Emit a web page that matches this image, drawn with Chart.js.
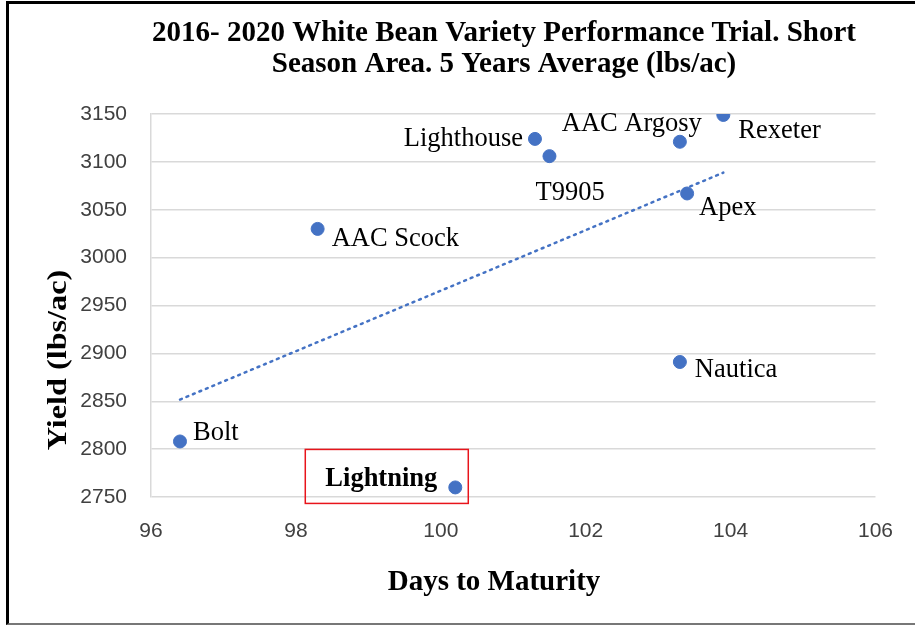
<!DOCTYPE html>
<html><head><meta charset="utf-8">
<script src="https://cdn.jsdelivr.net/npm/chart.js@4.4.1/dist/chart.umd.min.js"></script>
<style>
html,body{margin:0;padding:0;background:#fff;}
#wrap{position:relative;width:915px;height:629px;}
#frame{position:absolute;left:6px;top:1px;width:915px;height:624px;border-left:3px solid #000;border-top:3px solid #000;border-bottom:2px solid #777;box-sizing:border-box;pointer-events:none;}
canvas{position:absolute;left:0;top:0;}
</style></head>
<body><div id="wrap"><canvas id="c" width="915" height="629"></canvas><div id="frame"></div></div>
<script>
const varieties = ["Bolt","Lightning","AAC Scock","Lighthouse","T9905","AAC Argosy","Rexeter","Apex","Nautica"];
const daysToMaturity = [96.4,100.2,98.3,101.3,101.5,103.3,103.9,103.4,103.3];
const yieldLbsAc = [2808,2760,3030,3124,3106,3121,3149,3067,2891];
const xTicks = [96,98,100,102,104,106];
const yTicks = [2750,2800,2850,2900,2950,3000,3050,3100,3150];
const titleLines = ["2016- 2020 White Bean Variety Performance Trial. Short","Season Area. 5 Years Average (lbs/ac)"];
const xTitle = "Days to Maturity";
const yTitle = "Yield (lbs/ac)";
const highlighted = "Lightning";

// label placement relative to point (pixels): dx, dy, align
const labelPos = {
  "Bolt":[13,-8,"left"],
  "Lightning":[-18,-8,"right"],
  "AAC Scock":[14,10,"left"],
  "Lighthouse":[-12,0,"right"],
  "T9905":[-14,37,"left"],
  "AAC Argosy":[22,-18,"right"],
  "Rexeter":[15,16,"left"],
  "Apex":[12,15,"left"],
  "Nautica":[15,8,"left"]
};

// least-squares trendline from the data
const n = daysToMaturity.length;
const mx = daysToMaturity.reduce((a,b)=>a+b,0)/n;
const my = yieldLbsAc.reduce((a,b)=>a+b,0)/n;
let sxy=0,sxx=0;
for(let i=0;i<n;i++){sxy+=(daysToMaturity[i]-mx)*(yieldLbsAc[i]-my);sxx+=(daysToMaturity[i]-mx)**2;}
const slope=sxy/sxx, icpt=my-slope*mx;
const xmin=Math.min(...daysToMaturity), xmax=Math.max(...daysToMaturity);
const trend=[{x:xmin,y:icpt+slope*xmin},{x:xmax,y:icpt+slope*xmax}];

const pts = daysToMaturity.map((x,i)=>({x:x,y:yieldLbsAc[i]}));

const annot = {
  id:'annot',
  afterDatasetsDraw(chart){
    const ctx=chart.ctx, xs=chart.scales.x, ys=chart.scales.y;
    ctx.save();
    ctx.fillStyle='#000';
    ctx.textBaseline='middle';
    varieties.forEach((v,i)=>{
      const px=xs.getPixelForValue(daysToMaturity[i]), py=ys.getPixelForValue(yieldLbsAc[i]);
      const p=labelPos[v];
      ctx.font=(v===highlighted?'bold ':'')+'26.5px "Liberation Serif"';
      ctx.textAlign=p[2];
      ctx.fillText(v,px+p[0],py+p[1]);
      if(v===highlighted){
        ctx.strokeStyle='#e8141b';ctx.lineWidth=1.5;
        ctx.strokeRect(px-150,py-38,163,54);
      }
    });
    ctx.restore();
  },
  afterDraw(chart){
    const ctx=chart.ctx;
    ctx.save();
    ctx.fillStyle='#000';
    ctx.textAlign='center';ctx.textBaseline='alphabetic';
    ctx.font='bold 29px "Liberation Serif"';
    ctx.fillText(titleLines[0],504,41);
    ctx.fillText(titleLines[1],504,72);
    ctx.font='bold 29px "Liberation Serif"';
    ctx.textBaseline='middle';
    ctx.fillText(xTitle,494,583);
    ctx.font='bold 28px "Liberation Serif"';
    ctx.translate(59,360);ctx.rotate(-Math.PI/2);ctx.scale(1.15,1);
    ctx.fillText(yTitle,0,0);
    ctx.restore();
  }
};

new Chart(document.getElementById('c'),{
  type:'scatter',
  data:{datasets:[
    {label:'Yield',data:pts,backgroundColor:'#4472C4',borderColor:'#4472C4',pointRadius:6.5,pointHoverRadius:6.5,order:1},
    {type:'line',label:'Trend',data:trend,borderColor:'#4472C4',borderWidth:2.5,borderDash:[2,5],borderCapStyle:'round',pointRadius:0,fill:false,order:2}
  ]},
  options:{
    responsive:false,animation:false,
    layout:{padding:{left:80,right:38,top:114,bottom:82}},
    plugins:{legend:{display:false},tooltip:{enabled:false},title:{display:false}},
    scales:{
      x:{type:'linear',min:96,max:106,
        afterBuildTicks:(s)=>{s.ticks=xTicks.map(v=>({value:v}));},
        afterFit:(s)=>{s.height=50;},
        grid:{display:false,drawTicks:false},
        border:{display:false},
        ticks:{padding:22,color:'#404040',font:{family:'"Liberation Sans"',size:21},callback:(v)=>String(v)}
      },
      y:{type:'linear',min:2750,max:3150,
        afterBuildTicks:(s)=>{s.ticks=yTicks.map(v=>({value:v}));},
        afterFit:(s)=>{s.width=71;},
        grid:{color:'#d9d9d9',lineWidth:1.5,drawTicks:false},
        border:{display:true,color:'#d9d9d9',width:1.5},
        ticks:{padding:24,color:'#404040',font:{family:'"Liberation Sans"',size:21},callback:(v)=>String(v)}
      }
    }
  },
  plugins:[annot]
});
</script>
</body></html>
